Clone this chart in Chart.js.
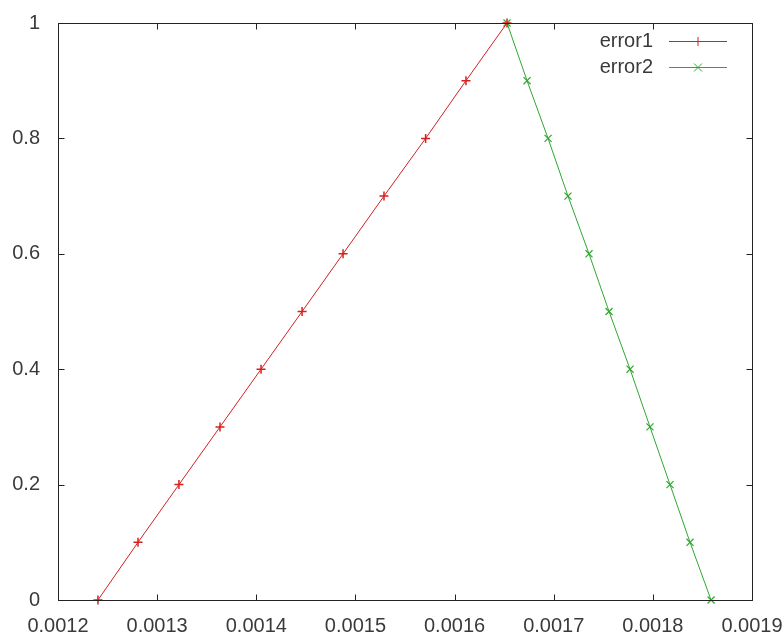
<!DOCTYPE html>
<html>
<head>
<meta charset="utf-8">
<script src="https://cdn.jsdelivr.net/npm/chart.js@4/dist/chart.umd.min.js"></script>
<style>
  html, body { margin: 0; padding: 0; background: #fff; }
  #wrap { width: 784px; height: 640px; }
</style>
</head>
<body>
<div id="wrap"><canvas id="c" width="784" height="640"></canvas></div>
<script>
const seriesNames = ['error1', 'error2'];
const error1X = [0.0012403, 0.0012807, 0.0013220, 0.0013634, 0.0014048, 0.0014462, 0.0014875, 0.0015288, 0.0015708, 0.0016115, 0.0016529];
const error1Y = [0, 0.1, 0.2, 0.3, 0.4, 0.5, 0.6, 0.7, 0.8, 0.9, 1.0];
const error2X = [0.0016529, 0.0016731, 0.0016943, 0.0017144, 0.0017356, 0.0017558, 0.0017770, 0.0017971, 0.0018173, 0.0018375, 0.0018587];
const error2Y = [1.0, 0.9, 0.8, 0.7, 0.6, 0.5, 0.4, 0.3, 0.2, 0.1, 0];
const xTickValues = [0.0012, 0.0013, 0.0014, 0.0015, 0.0016, 0.0017, 0.0018, 0.0019];
const xTickLabels = ['0.0012', '0.0013', '0.0014', '0.0015', '0.0016', '0.0017', '0.0018', '0.0019'];
const yTickValues = [0, 0.2, 0.4, 0.6, 0.8, 1];
const yTickLabels = ['0', '0.2', '0.4', '0.6', '0.8', '1'];

const RED = '#d42020';
const GREEN = '#2ea82e';
const FONT = { family: '"Liberation Sans", Arial, sans-serif', size: 20 };
const TEXT = '#3a3a3a';

function toPoints(xs, ys) { return xs.map((x, i) => ({ x: x, y: ys[i] })); }

const frame = {
  id: 'frame',
  afterDraw(chart) {
    const ctx = chart.ctx, a = chart.chartArea;
    const xs = chart.scales.x, ys = chart.scales.y;
    ctx.save();
    ctx.strokeStyle = '#222';
    ctx.lineWidth = 1;
    const L = Math.round(a.left) + 0.5, R = Math.round(a.right) + 0.5;
    const T = Math.round(a.top) + 0.5, B = Math.round(a.bottom) + 0.5;
    ctx.strokeRect(L, T, R - L, B - T);
    const len = 6;
    ctx.beginPath();
    xTickValues.forEach(v => {
      const px = Math.round(xs.getPixelForValue(v)) + 0.5;
      ctx.moveTo(px, B); ctx.lineTo(px, B - len);
      ctx.moveTo(px, T); ctx.lineTo(px, T + len);
    });
    yTickValues.forEach(v => {
      const py = Math.round(ys.getPixelForValue(v)) + 0.5;
      ctx.moveTo(L, py); ctx.lineTo(L + len, py);
      ctx.moveTo(R, py); ctx.lineTo(R - len, py);
    });
    ctx.stroke();

    // legend (top right, inside plot)
    ctx.font = FONT.size + 'px ' + FONT.family;
    ctx.textAlign = 'right';
    ctx.textBaseline = 'middle';
    chart.data.datasets.forEach((ds, i) => {
      const y = a.top + 18 + i * 26;
      ctx.fillStyle = TEXT;
      ctx.fillText(ds.label, a.left + 595, y);
      ctx.strokeStyle = ds.borderColor;
      ctx.lineWidth = 1;
      const x0 = a.left + 611, x1 = a.left + 669, xm = (x0 + x1) / 2;
      ctx.beginPath();
      ctx.moveTo(x0, y + 0.5); ctx.lineTo(x1, y + 0.5);
      ctx.stroke();
      ctx.beginPath();
      if (ds.pointStyle === 'cross') {
        ctx.moveTo(xm - 4.5, y + 0.5); ctx.lineTo(xm + 4.5, y + 0.5);
        ctx.moveTo(xm, y - 4); ctx.lineTo(xm, y + 5);
      } else {
        ctx.moveTo(xm - 4, y - 3.5); ctx.lineTo(xm + 4, y + 4.5);
        ctx.moveTo(xm - 4, y + 4.5); ctx.lineTo(xm + 4, y - 3.5);
      }
      ctx.stroke();
    });
    ctx.restore();
  }
};

new Chart(document.getElementById('c'), {
  type: 'scatter',
  data: {
    datasets: [
      {
        label: seriesNames[0],
        data: toPoints(error1X, error1Y),
        showLine: true,
        borderColor: RED,
        backgroundColor: RED,
        borderWidth: 1,
        pointStyle: 'cross',
        pointRadius: 4.5,
        pointBorderWidth: 1.5,
        pointHoverRadius: 4.5,
        clip: false
      },
      {
        label: seriesNames[1],
        data: toPoints(error2X, error2Y),
        showLine: true,
        borderColor: GREEN,
        backgroundColor: GREEN,
        borderWidth: 1,
        pointStyle: 'crossRot',
        pointRadius: 5,
        pointBorderWidth: 1.2,
        pointHoverRadius: 5,
        clip: false
      }
    ]
  },
  options: {
    responsive: false,
    animation: false,
    events: [],
    layout: { padding: { top: 23, right: 32, left: 0, bottom: 0 } },
    plugins: { legend: { display: false }, tooltip: { enabled: false } },
    scales: {
      x: {
        type: 'linear',
        min: 0.0012,
        max: 0.0019,
        afterBuildTicks: s => { s.ticks = xTickValues.map(v => ({ value: v })); },
        afterFit: s => { s.height = 40; s.paddingLeft = 0; s.paddingRight = 0; },
        grid: { drawOnChartArea: false, drawTicks: false },
        border: { display: false },
        ticks: {
          font: FONT, color: TEXT, padding: 14, maxRotation: 0, autoSkip: false,
          callback: (v, i) => xTickLabels[i]
        }
      },
      y: {
        type: 'linear',
        min: 0,
        max: 1,
        afterBuildTicks: s => { s.ticks = yTickValues.map(v => ({ value: v })); },
        afterFit: s => { s.width = 58; s.paddingTop = 0; s.paddingBottom = 0; },
        grid: { drawOnChartArea: false, drawTicks: false },
        border: { display: false },
        ticks: {
          font: FONT, color: TEXT, padding: 18, autoSkip: false,
          callback: (v, i) => yTickLabels[i]
        }
      }
    }
  },
  plugins: [frame]
});
</script>
</body>
</html>
